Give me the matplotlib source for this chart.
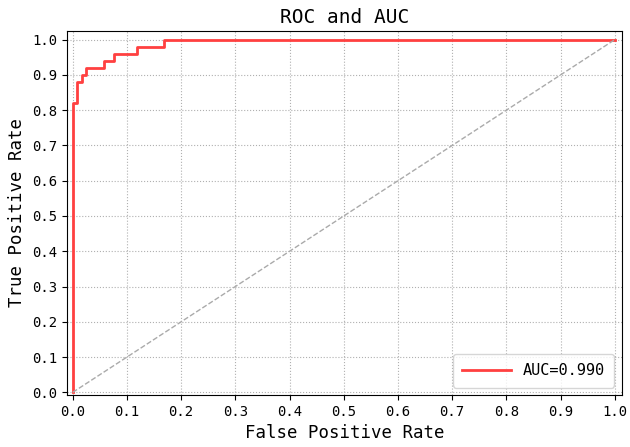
import matplotlib
matplotlib.use("Agg")
import matplotlib.pyplot as plt

# ROC curve points
fpr = [0.0, 0.0, 0.007, 0.007, 0.017, 0.017, 0.025, 0.025, 0.058, 0.058,
       0.077, 0.077, 0.119, 0.119, 0.168, 0.168, 1.0]
tpr = [0.0, 0.82, 0.82, 0.88, 0.88, 0.90, 0.90, 0.92, 0.92, 0.94,
       0.94, 0.96, 0.96, 0.98, 0.98, 1.0, 1.0]
auc_value = 0.990

plt.rcParams['font.family'] = ['DejaVu Sans Mono']

fig = plt.figure(figsize=(6.3, 4.47), dpi=100)
ax = fig.add_axes([0.106, 0.116, 0.881, 0.815])

ax.plot(fpr, tpr, color='#ff4040', lw=2, label='AUC=%0.3f' % auc_value)
ax.plot([0, 1], [0, 1], color='#aaaaaa', lw=1, linestyle='--')

ax.set_xlim(-0.011, 1.013)
ax.set_ylim(-0.008, 1.025)
ax.set_xticks([i / 10 for i in range(11)])
ax.set_yticks([i / 10 for i in range(11)])
ax.tick_params(labelsize=10)
ax.grid(True, linestyle=':', color='#b0b0b0')
ax.set_xlabel('False Positive Rate', fontsize=12.5)
ax.set_ylabel('True Positive Rate', fontsize=12.5)
ax.set_title('ROC and AUC', fontsize=14)
ax.legend(loc='lower right', fontsize=11, handlelength=3.2, borderpad=0.6)

fig.savefig('out.png', dpi=100)
